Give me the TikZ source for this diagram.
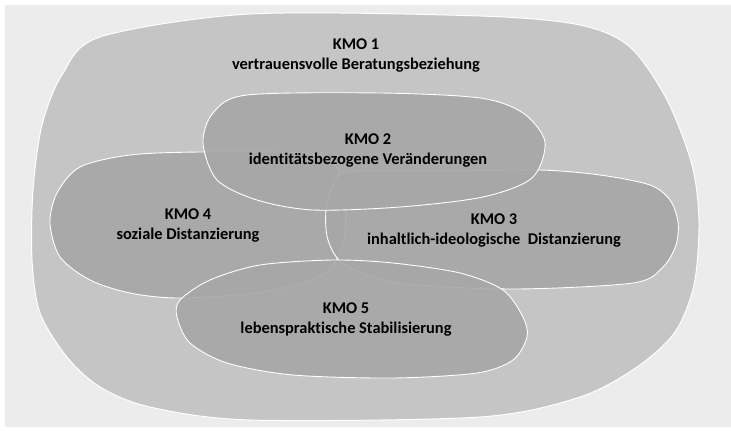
\documentclass[tikz,border=0pt]{standalone}
\usepackage{fontspec}
\setmainfont[Ligatures=NoCommon]{Carlito}
\definecolor{pagegray}{HTML}{ECECEC}
\definecolor{outergray}{HTML}{C5C5C5}
\definecolor{innergray}{HTML}{A7A7A7}
\begin{document}
\begin{tikzpicture}[x=1pt,y=-1pt,
  outerblob/.style={draw=white, line width=1pt, fill=outergray},
  blob/.style={draw=white, line width=0.9pt, fill=innergray, fill opacity=0.9},
  kmotext/.style={font=\bfseries\fontsize{16.4}{20}\selectfont, align=center, text=black}]

\fill[white] (0,0) rectangle (731,431);
\fill[pagegray] (5,5) rectangle (731,427);

% KMO 1
\draw[outerblob] plot[smooth cycle] coordinates {(100,37) (250,14) (480,16) (580,25) (630,47) (667,100) (692,165) (699,222) (694,285) (675,332) (637,367) (580,397) (480,417) (250,420) (150,407) (100,387) (67,357) (40,313) (32,260) (33,190) (42,125) (62,75)};

% KMO 4
\draw[blob] plot[smooth cycle] coordinates {(130,155) (200,152) (300,153) (335,165) (345,200) (343,245) (322,275) (263,292) (180,298) (130,293) (90,280) (60,257) (50,223) (57,193) (80,167)};
% KMO 3
\draw[blob] plot[smooth cycle] coordinates {(350,172) (450,171) (540,170) (600,175) (650,185) (670,200) (678,222) (676,245) (663,267) (633,283) (513,289) (400,283) (345,265) (328,240) (326,210) (333,185)};
% KMO 2
\draw[blob] plot[smooth cycle] coordinates {(247,95) (380,93) (480,98) (523,113) (545,142) (532,178) (483,197) (400,207) (313,210) (257,200) (217,180) (203,143) (213,113)};
% KMO 5
\draw[blob] plot[smooth cycle] coordinates {(333,260) (393,263) (460,273) (503,290) (523,317) (527,337) (513,360) (477,373) (393,378) (293,375) (227,363) (190,343) (177,317) (180,300) (210,280) (260,265)};

\node[kmotext] (kmo1) at (356,56) {KMO 1\\vertrauensvolle Beratungsbeziehung};
\node[kmotext] (kmo2) at (368,151) {KMO 2\\identitätsbezogene Veränderungen};
\node[kmotext] (kmo3) at (494,231) {KMO 3\\inhaltlich-ideologische\ \ Distanzierung};
\node[kmotext] (kmo4) at (188,226) {KMO 4\\soziale Distanzierung};
\node[kmotext] (kmo5) at (346,320) {KMO 5\\lebenspraktische Stabilisierung};
\end{tikzpicture}
\end{document}
